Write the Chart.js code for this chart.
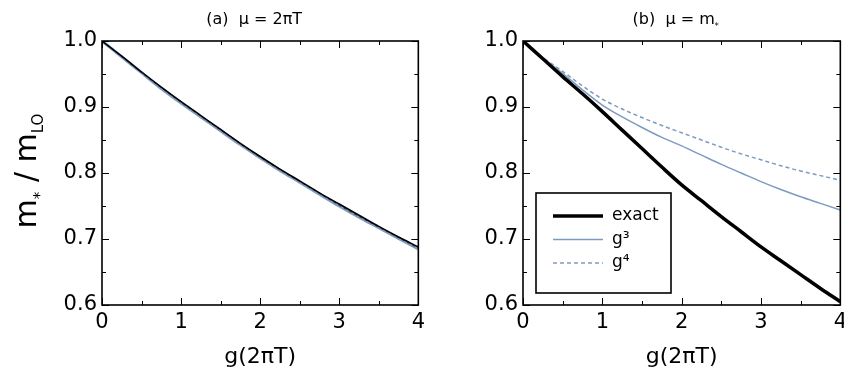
<!DOCTYPE html>
<html>
<head>
<meta charset="utf-8">
<script src="https://cdn.jsdelivr.net/npm/chart.js@4.4.1/dist/chart.umd.min.js"></script>
<style>
  body { margin: 0; background: #fff; overflow: hidden; }
  #wrap { position: relative; width: 844px; height: 377px; }
  #wrap canvas { position: absolute; top: 0; }
</style>
</head>
<body>
<div id="wrap">
  <canvas id="chartA" width="430" height="377" style="left:0"></canvas>
  <canvas id="chartB" width="430" height="377" style="left:422px"></canvas>
</div>
<script>
// x values, g(2πT)
const gValues = [0, 0.25, 0.5, 0.75, 1, 1.25, 1.5, 1.75, 2, 2.25, 2.5, 2.75, 3, 3.25, 3.5, 3.75, 4];

// (a) mu = 2πT
const exactA = [1.000, 0.977, 0.953, 0.930, 0.908, 0.887, 0.866, 0.845, 0.825, 0.806, 0.788, 0.770, 0.753, 0.736, 0.719, 0.703, 0.688];
const g4A    = [1.000, 0.976, 0.952, 0.929, 0.907, 0.886, 0.865, 0.844, 0.824, 0.805, 0.787, 0.769, 0.751, 0.734, 0.718, 0.702, 0.686];
const g3A    = [1.000, 0.976, 0.952, 0.928, 0.906, 0.885, 0.864, 0.843, 0.823, 0.804, 0.786, 0.768, 0.750, 0.733, 0.717, 0.701, 0.685];

// (b) mu = m*
const exactB = [1.000, 0.973, 0.946, 0.920, 0.893, 0.865, 0.837, 0.809, 0.782, 0.758, 0.734, 0.711, 0.688, 0.667, 0.646, 0.625, 0.605];
const g3B    = [1.000, 0.974, 0.951, 0.926, 0.903, 0.885, 0.869, 0.854, 0.841, 0.827, 0.813, 0.800, 0.787, 0.775, 0.764, 0.754, 0.744];
const g4B    = [1.000, 0.975, 0.954, 0.932, 0.912, 0.897, 0.884, 0.872, 0.861, 0.850, 0.839, 0.829, 0.820, 0.811, 0.803, 0.796, 0.789];

const xMajor = [0, 1, 2, 3, 4];
const xMinor = [0.5, 1.5, 2.5, 3.5];
const yMajor = [0.6, 0.7, 0.8, 0.9, 1.0];
const yMinor = [0.65, 0.75, 0.85, 0.95];

const FONT = '"DejaVu Sans"';
const blue = '#7e9bbf';

Chart.defaults.font.family = FONT;
Chart.defaults.color = '#000';

function pts(vals) {
  return gValues.map((g, i) => ({ x: g, y: vals[i] }));
}

// text with subscripts, drawn piece by piece
function richWidth(ctx, parts, size) {
  let w = 0;
  parts.forEach(p => {
    ctx.font = (p.sub ? size * 0.5 : size) + 'px ' + FONT;
    w += ctx.measureText(p.t).width;
  });
  return w;
}
function drawRich(ctx, parts, size, x, y) {
  parts.forEach(p => {
    const s = p.sub ? size * 0.5 : size;
    ctx.font = s + 'px ' + FONT;
    let dy = p.sub ? size * 0.22 : 0;
    if (p.star) dy = size * 0.3;
    ctx.fillText(p.t, x, y + dy);
    x += ctx.measureText(p.t).width;
  });
}

// box around the plot with inward ticks on all four sides
const framePlugin = {
  id: 'frame',
  afterDatasetsDraw(chart) {
    const { ctx, chartArea: a, scales: { x, y } } = chart;
    ctx.save();
    ctx.strokeStyle = '#000';
    ctx.lineWidth = 1;
    ctx.beginPath();
    const xt = (v, len) => {
      const px = Math.round(x.getPixelForValue(v)) + 0.5;
      ctx.moveTo(px, a.bottom); ctx.lineTo(px, a.bottom - len);
      ctx.moveTo(px, a.top); ctx.lineTo(px, a.top + len);
    };
    const yt = (v, len) => {
      const py = Math.round(y.getPixelForValue(v)) + 0.5;
      ctx.moveTo(a.left, py); ctx.lineTo(a.left + len, py);
      ctx.moveTo(a.right, py); ctx.lineTo(a.right - len, py);
    };
    xMajor.forEach(v => xt(v, 7));
    xMinor.forEach(v => xt(v, 4));
    yMajor.forEach(v => yt(v, 7));
    yMinor.forEach(v => yt(v, 4));
    ctx.stroke();
    ctx.lineWidth = 1.6;
    ctx.strokeRect(a.left, a.top, a.right - a.left, a.bottom - a.top);
    ctx.restore();
  }
};

// panel title, y title and legend box
const textPlugin = {
  id: 'panelText',
  afterDraw(chart, args, opts) {
    const { ctx, chartArea: a } = chart;
    ctx.save();
    ctx.fillStyle = '#000';
    ctx.textBaseline = 'alphabetic';
    ctx.textAlign = 'left';

    const tw = richWidth(ctx, opts.title, 16);
    drawRich(ctx, opts.title, 16, (a.left + a.right) / 2 - tw / 2 - 6, 24);

    if (opts.yTitle) {
      ctx.save();
      ctx.translate(36, (a.top + a.bottom) / 2);
      ctx.rotate(-Math.PI / 2);
      const w = richWidth(ctx, opts.yTitle, 30);
      drawRich(ctx, opts.yTitle, 30, -w / 2 + 2, 0);
      ctx.restore();
    }

    if (opts.legend) {
      const lx = a.left + 13, ly = a.top + 152, lw = 135, lh = 100;
      ctx.fillStyle = '#fff';
      ctx.fillRect(lx, ly, lw, lh);
      ctx.strokeStyle = '#000';
      ctx.lineWidth = 1.6;
      ctx.strokeRect(lx, ly, lw, lh);
      ctx.font = '17px ' + FONT;
      ctx.textBaseline = 'middle';
      chart.data.datasets.forEach((ds, i) => {
        const ry = ly + 23 + i * 23.5;
        ctx.save();
        ctx.strokeStyle = ds.borderColor;
        ctx.lineWidth = ds.borderWidth;
        ctx.setLineDash(ds.borderDash || []);
        ctx.beginPath();
        ctx.moveTo(lx + 17, ry);
        ctx.lineTo(lx + 67, ry);
        ctx.stroke();
        ctx.restore();
        ctx.fillStyle = '#000';
        ctx.fillText(ds.label, lx + 76, ry);
      });
    }
    ctx.restore();
  }
};

function makeChart(id, datasets, yWidth, panelOpts) {
  return new Chart(document.getElementById(id), {
    type: 'line',
    data: { datasets: datasets },
    options: {
      responsive: false,
      animation: false,
      layout: { padding: { top: 41, right: 11, bottom: 0, left: 0 } },
      elements: { point: { radius: 0 }, line: { cubicInterpolationMode: 'monotone' } },
      plugins: {
        legend: { display: false },
        tooltip: { enabled: false },
        panelText: panelOpts
      },
      scales: {
        x: {
          type: 'linear',
          min: 0,
          max: 4,
          afterBuildTicks: s => { s.ticks = xMajor.map(v => ({ value: v })); },
          afterFit: s => { s.height = 72; },
          grid: { display: false, drawTicks: false },
          border: { display: false },
          ticks: { font: { size: 21 }, padding: 5, callback: v => String(v) },
          title: { display: true, text: 'g(2πT)', font: { size: 22 }, padding: { top: 0, bottom: 7 } }
        },
        y: {
          min: 0.6,
          max: 1.0,
          afterBuildTicks: s => { s.ticks = yMajor.map(v => ({ value: v })); },
          afterFit: s => { s.width = yWidth; },
          grid: { display: false, drawTicks: false },
          border: { display: false },
          ticks: { font: { size: 21 }, padding: 5, callback: v => v.toFixed(1) }
        }
      }
    },
    plugins: [framePlugin, textPlugin]
  });
}

makeChart('chartA', [
  { label: 'exact', data: pts(exactA), borderColor: '#000', borderWidth: 1.5 },
  { label: 'g⁴', data: pts(g4A), borderColor: '#333', borderWidth: 1, borderDash: [3, 3] },
  { label: 'g³', data: pts(g3A), borderColor: blue, borderWidth: 3 }
], 102, {
  title: [{ t: '(a)  μ = 2πT' }],
  yTitle: [{ t: 'm' }, { t: '*', sub: true, star: true }, { t: ' / m' }, { t: 'LO', sub: true }],
  legend: false
});

makeChart('chartB', [
  { label: 'exact', data: pts(exactB), borderColor: '#000', borderWidth: 3.5 },
  { label: 'g³', data: pts(g3B), borderColor: blue, borderWidth: 1.5 },
  { label: 'g⁴', data: pts(g4B), borderColor: blue, borderWidth: 1.5, borderDash: [4, 3] }
], 101, {
  title: [{ t: '(b)  μ = m' }, { t: '*', sub: true, star: true }],
  yTitle: null,
  legend: true
});
</script>
</body>
</html>
